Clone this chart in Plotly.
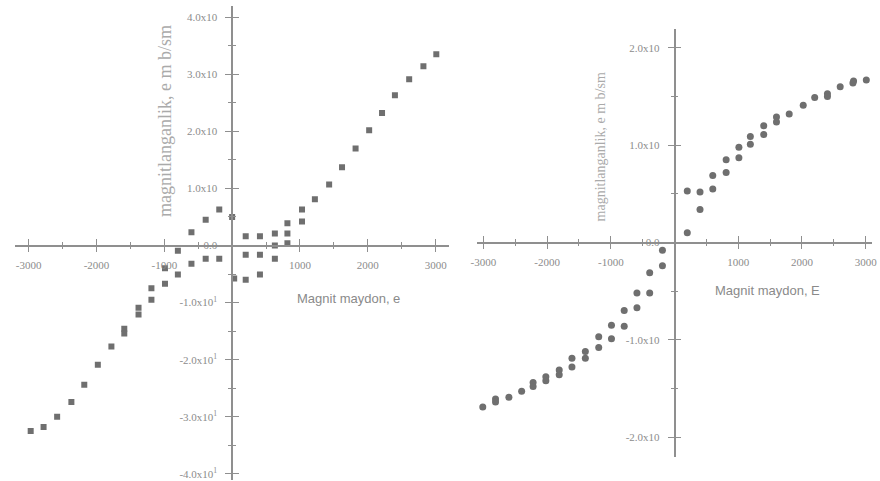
import plotly.graph_objects as go

# Left sample: magnetization vs field (square markers)
h_left = [3010, 2820, 2610, 2400, 2210, 2020, 1820, 1620, 1430, 1220, 1030, 1030,
          815, 815, 630, 410, 200, 815, 630, 630, 410, 200, 410, 200, 30,
          -190, -390, -600, -800, -800, -990, -990, -1190, -1190, -1380, -1380,
          -1590, -1590, -1780, -1980, -2180, -2370, -2580, -2780, -2970,
          -600, -390, -190, 0]
m_left = [3.35, 3.14, 2.91, 2.63, 2.32, 2.02, 1.70, 1.37, 1.07, 0.81, 0.63, 0.42,
          0.39, 0.21, 0.21, 0.16, 0.16, 0.04, 0.0, -0.23, -0.16, -0.16, -0.51, -0.60, -0.58,
          -0.23, -0.23, -0.32, -0.09, -0.51, -0.40, -0.67, -0.75, -0.95, -1.09, -1.21,
          -1.46, -1.54, -1.77, -2.09, -2.44, -2.74, -3.00, -3.18, -3.25,
          0.23, 0.45, 0.63, 0.50]

# Right sample: magnetization vs field (circle markers)
h_right = [3010, 2810, 2800, 2600, 2400, 2400, 2200, 2020, 1800, 1600, 1600, 1400, 1400,
           1190, 1190, 1010, 1010, 810, 810, 600, 600, 400, 400, 200, 200,
           -190, -190, -390, -390, -590, -590, -790, -790, -990, -990, -1190, -1190,
           -1400, -1400, -1610, -1610, -1810, -1810, -2020, -2020, -2220, -2220,
           -2400, -2600, -2810, -2810, -3010]
m_right = [1.67, 1.66, 1.64, 1.60, 1.53, 1.50, 1.49, 1.41, 1.32, 1.29, 1.24, 1.20, 1.11,
           1.09, 1.01, 0.98, 0.87, 0.85, 0.72, 0.69, 0.55, 0.52, 0.34, 0.53, 0.10,
           -0.08, -0.24, -0.31, -0.52, -0.52, -0.67, -0.70, -0.86, -0.85, -0.99, -0.97, -1.08,
           -1.12, -1.19, -1.19, -1.28, -1.31, -1.36, -1.38, -1.42, -1.44, -1.48,
           -1.53, -1.59, -1.61, -1.64, -1.69]

x_ticks = [-3000, -2000, -1000, 1000, 2000, 3000]
x_ticktext = ["-3000", "-2000", "-1000", "1000", "2000", "3000"]
y_ticks_left = [-4, -3, -2, -1, 0, 1, 2, 3, 4]
y_ticktext_left = ["-4.0x10<sup>1</sup>", "-3.0x10<sup>1</sup>", "-2.0x10<sup>1</sup>",
                   "-1.0x10<sup>1</sup>", "0.0", "1.0x10", "2.0x10", "3.0x10", "4.0x10"]
y_ticks_right = [-2, -1, 0, 1, 2]
y_ticktext_right = ["-2.0x10", "-1.0x10", "0.0", "1.0x10", "2.0x10"]

W, H = 880, 481
AX = "#8f8f8f"
TXT = "#8c8c8c"
MK = "#6f6f6f"

# panel geometry (pixels) and data ranges
left_px = (9.2, 448.8)
left_py = (5.7, 479.6)
left_xr = [-3200, 3200]
left_yr = [-4.1, 4.2]
right_px = (477.0, 877.0)
right_py = (28.5, 456.5)
right_xr = [-3100, 3100]
right_yr = [-2.2, 2.2]


def xdom(px):
    return [px[0] / W, px[1] / W]


def ydom(py):
    return [1 - py[1] / H, 1 - py[0] / H]


def zero_frac(dom, rng):
    return dom[0] + (0 - rng[0]) / (rng[1] - rng[0]) * (dom[1] - dom[0])


fig = go.Figure()
fig.add_trace(go.Scatter(x=h_left, y=m_left, mode="markers", xaxis="x", yaxis="y",
                         marker=dict(symbol="square", size=6, color=MK), showlegend=False))
fig.add_trace(go.Scatter(x=h_right, y=m_right, mode="markers", xaxis="x2", yaxis="y2",
                         marker=dict(symbol="circle", size=7, color=MK), showlegend=False))

tick_font = dict(family="Liberation Serif", size=11, color=TXT)

lxd, lyd = xdom(left_px), ydom(left_py)
rxd, ryd = xdom(right_px), ydom(right_py)


def xaxis(dom, rng, yanchor_pos, ticks, labels=True, overlay=None):
    d = dict(domain=dom, range=rng, anchor="free", position=yanchor_pos,
             showline=True, linecolor=AX, linewidth=1.5, showgrid=False, zeroline=False,
             tickvals=x_ticks, ticktext=x_ticktext, ticks=ticks, ticklen=6, tickcolor=AX,
             showticklabels=labels, tickfont=tick_font, ticklabeloverflow="allow",
             ticklabelstandoff=4,
             minor=dict(tickvals=[-2500, -1500, -500, 500, 1500, 2500], ticks=ticks,
                        ticklen=3, tickcolor=AX))
    if overlay:
        d["overlaying"] = overlay
    return d


def yaxis(dom, rng, xanchor_pos, vals, text, minors, ticks, labels=True, overlay=None):
    d = dict(domain=dom, range=rng, anchor="free", position=xanchor_pos,
             showline=True, linecolor=AX, linewidth=1.5, showgrid=False, zeroline=False,
             tickvals=vals, ticktext=text, ticks=ticks, ticklen=6, tickcolor=AX,
             showticklabels=labels, tickfont=tick_font, ticklabeloverflow="allow",
             ticklabelstandoff=6,
             minor=dict(tickvals=minors, ticks=ticks, ticklen=3, tickcolor=AX))
    if overlay:
        d["overlaying"] = overlay
    return d


lx0 = zero_frac(lyd, left_yr)
ly0 = zero_frac(lxd, left_xr)
rx0 = zero_frac(ryd, right_yr)
ry0 = zero_frac(rxd, right_xr)

left_minor = [-3.5, -2.5, -1.5, -0.5, 0.5, 1.5, 2.5, 3.5]
right_minor = [-1.5, -0.5, 0.5, 1.5]

fig.update_layout(
    width=W, height=H,
    margin=dict(l=0, r=0, t=0, b=0),
    paper_bgcolor="white", plot_bgcolor="rgba(0,0,0,0)",
    xaxis=xaxis(lxd, left_xr, lx0, "outside"),
    yaxis=yaxis(lyd, left_yr, ly0, y_ticks_left, y_ticktext_left, left_minor, "outside"),
    xaxis2=xaxis(rxd, right_xr, rx0, "outside"),
    yaxis2=yaxis(ryd, right_yr, ry0, y_ticks_right, y_ticktext_right, right_minor, "outside"),
    # inward tick copies so the marks cross each axis line
    xaxis3=xaxis(lxd, left_xr, lx0, "inside", labels=False, overlay="x"),
    yaxis3=yaxis(lyd, left_yr, ly0, y_ticks_left, y_ticktext_left, left_minor, "inside",
                 labels=False, overlay="y"),
    xaxis4=xaxis(rxd, right_xr, rx0, "inside", labels=False, overlay="x2"),
    yaxis4=yaxis(ryd, right_yr, ry0, y_ticks_right, y_ticktext_right, right_minor, "inside",
                 labels=False, overlay="y2"),
)

# Invisible traces to activate the overlay axes
fig.add_trace(go.Scatter(x=[0], y=[0], xaxis="x3", yaxis="y3", mode="markers",
                         marker=dict(opacity=0), showlegend=False, hoverinfo="skip"))
fig.add_trace(go.Scatter(x=[0], y=[0], xaxis="x4", yaxis="y4", mode="markers",
                         marker=dict(opacity=0), showlegend=False, hoverinfo="skip"))

title_font_x = dict(family="Liberation Sans", size=13, color="#8a8a8a")


def note(text, px, py, font, angle=0):
    fig.add_annotation(text=text, xref="paper", yref="paper", x=px / W, y=1 - py / H,
                       xanchor="center", yanchor="middle", textangle=angle,
                       showarrow=False, font=font)


note("magnitlanganlik, e m b/sm", 161, 121,
     dict(family="Liberation Serif", size=18, color="#aaaaaa"), angle=-90)
note("magnitlanganlik, e m b/sm", 602, 147,
     dict(family="Liberation Serif", size=14, color="#aaaaaa"), angle=-90)
note("Magnit maydon, e", 347, 298, title_font_x)
note("Magnit maydon, E", 771, 290, title_font_x)

fig.write_html("out.html")
